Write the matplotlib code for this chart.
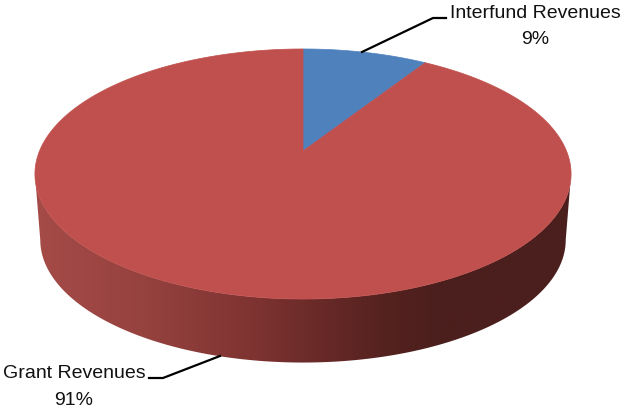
import numpy as np
import matplotlib
matplotlib.use("Agg")
import matplotlib.pyplot as plt
from matplotlib.colors import LinearSegmentedColormap
from matplotlib.patches import Polygon

categories = ["Interfund Revenues", "Grant Revenues"]
shares = [9, 91]
colors = ["#4f81bd", "#c0504d"]

# side shading, left to right along the rim
side_stops = [(0.0, "#a54b48"), (0.2, "#96423f"), (0.4, "#7f3432"), (0.5, "#6e2c2a"),
              (0.65, "#55221f"), (0.75, "#4b1f1d"), (1.0, "#4b1f1d")]

CX, CY = 303, 152
A, B, K = 263.5, 120.8, 0.184


def rim(angle):
    # angle in degrees, clockwise from the top of the disc, with perspective
    t = np.radians(angle)
    u, v = np.sin(t), np.cos(t)
    w = 1 + K * v
    return CX + A * u / w, CY - B * v / w


def lower(x, y):
    return CX + 0.98 * (x - CX), 241 + 0.98 * (y - 175)


fig = plt.figure(figsize=(6.21, 4.10), dpi=100)
ax = fig.add_axes([0, 0, 1, 1])

# side wall
v_limit = np.degrees(np.arccos(-K))
ang = np.linspace(v_limit, 360 - v_limit, 300)
xt, yt = rim(ang)
xb, yb = lower(xt, yt)
side = Polygon(np.r_[np.c_[xt, yt], np.c_[xb, yb][::-1]], closed=True, fc="none", ec="none")
ax.add_patch(side)
cmap = LinearSegmentedColormap.from_list("side", side_stops)
grad = np.linspace(0, 1, 256).reshape(1, -1)
im = ax.imshow(grad, cmap=cmap, extent=[35, 571, 370, 170], aspect="auto", zorder=1)
im.set_clip_path(side)

# top of the disc
start = 0
for share, col in zip(shares, colors):
    sweep = share / sum(shares) * 360
    a = np.linspace(start, start + sweep, 300)
    x, y = rim(a)
    ax.fill(np.r_[CX, x], np.r_[CY, y], color=col, lw=0.5, zorder=2)
    start += sweep

ax.plot([362, 433, 446], [53, 19, 19], color="k", lw=1.6, zorder=3)
ax.plot([220, 163, 149], [357, 379, 379], color="k", lw=1.6, zorder=3)

font = dict(family="Liberation Sans", fontsize=14, ha="center", va="center", color="#111111")
ax.text(535, 13, categories[0], **font)
ax.text(535, 40, f"{shares[0]}%", **font)
ax.text(74, 374, categories[1], **font)
ax.text(74, 401, f"{shares[1]}%", **font)

ax.set_xlim(0, 621)
ax.set_ylim(410, 0)
ax.axis("off")
fig.savefig("out.png", dpi=100)
